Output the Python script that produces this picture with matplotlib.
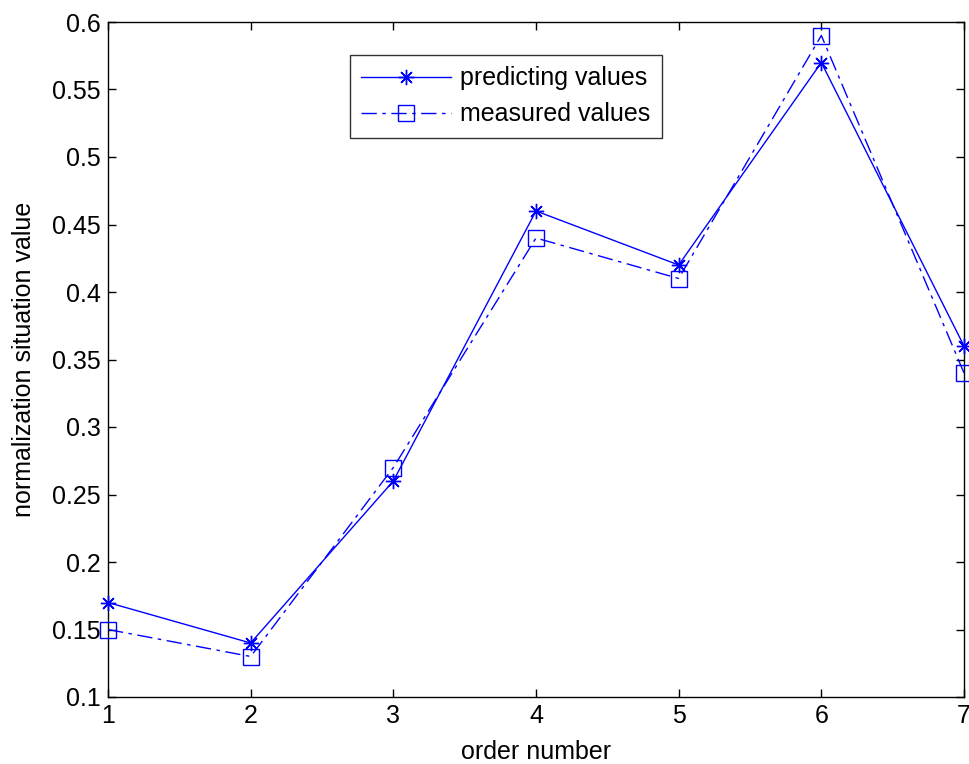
import matplotlib
matplotlib.use("Agg")
import matplotlib.pyplot as plt

plt.rcParams['font.family'] = ['Liberation Sans', 'DejaVu Sans']

order = [1, 2, 3, 4, 5, 6, 7]
predicting = [0.17, 0.14, 0.26, 0.46, 0.42, 0.57, 0.36]
measured = [0.15, 0.13, 0.27, 0.44, 0.41, 0.59, 0.34]
yticks = [0.1, 0.15, 0.2, 0.25, 0.3, 0.35, 0.4, 0.45, 0.5, 0.55, 0.6]
ytick_labels = ['0.1', '0.15', '0.2', '0.25', '0.3', '0.35', '0.4', '0.45', '0.5', '0.55', '0.6']

fig = plt.figure(figsize=(9.7, 7.64), dpi=100)
ax = fig.add_axes([108/970, 1-697/764, (964-108)/970, (697-22)/764])

blue = '#0000ff'
ax.plot(order, predicting, color=blue, lw=1.0, marker=(8, 2, 0), markersize=11,
        markeredgewidth=1.0, label='predicting values', clip_on=False, zorder=3)
ax.plot(order, measured, color=blue, lw=1.0, linestyle=(0, (11, 4, 2.5, 4)), marker='s',
        markersize=12, markerfacecolor='none', markeredgewidth=1.0,
        label='measured values', clip_on=False, zorder=3)

ax.set_xlim(1, 7)
ax.set_ylim(0.1, 0.6)
ax.set_xticks(order)
ax.set_xticklabels([str(o) for o in order])
ax.set_yticks(yticks)
ax.set_yticklabels(ytick_labels)
ax.tick_params(direction='in', top=True, right=True, labelsize=18, length=6, width=1,
               pad=5)
for s in ax.spines.values():
    s.set_linewidth(1.0)
ax.set_xlabel('order number', fontsize=18, labelpad=9)
ax.set_ylabel('normalization situation value', fontsize=18, labelpad=12)

leg = ax.legend(loc='upper left', bbox_to_anchor=(350/970, 1-55/764),
                bbox_transform=fig.transFigure, fontsize=18, frameon=True,
                fancybox=False, edgecolor='black', handlelength=3.6,
                borderpad=0.45, labelspacing=0.48, handletextpad=0.35, borderaxespad=0)
leg.get_frame().set_linewidth(1.0)

fig.savefig('out.png', dpi=100)
